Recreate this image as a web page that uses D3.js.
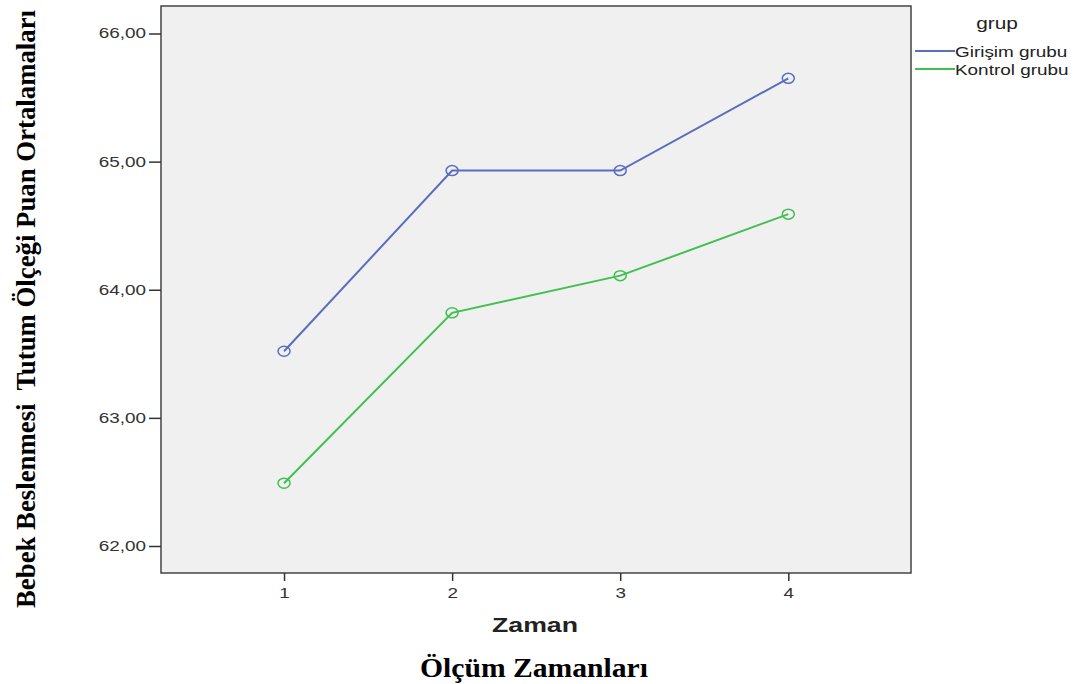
<!DOCTYPE html>
<html>
<head>
<meta charset="utf-8">
<script src="https://cdn.jsdelivr.net/npm/d3@7"></script>
<style>
  body { margin: 0; background: #fff; }
</style>
</head>
<body>
<svg id="chart" width="1086" height="684"></svg>
<script>
// Data
const times = [1, 2, 3, 4];
const girisim = [63.52, 64.93, 64.93, 65.65];
const kontrol = [62.49, 63.82, 64.11, 64.59];
const groupNames = ["Girişim grubu", "Kontrol grubu"];
const groupColors = ["#5a6dbf", "#40c050"];
const yTicks = [62, 63, 64, 65, 66];

const svg = d3.select("#chart");
const sans = "'Liberation Sans', Arial, sans-serif";
const serif = "'Liberation Serif', 'Times New Roman', serif";

// the original picture is stretched sideways, so widen the sans text a bit
function stretch(sel, k) {
  sel.each(function() {
    const w = this.getComputedTextLength();
    d3.select(this).attr("textLength", w * k).attr("lengthAdjust", "spacingAndGlyphs");
  });
}

// plot frame
const plotLeft = 161, plotRight = 911, plotTop = 6, plotBottom = 573;

const x = d3.scaleLinear()
  .domain([0.268, 4.73])
  .range([plotLeft, plotRight]);
const y = d3.scaleLinear()
  .domain([62, 66])
  .range([546, 33.5]);
const y0 = y.invert(plotBottom), y1 = y.invert(plotTop);
y.domain([y0, y1]).range([plotBottom, plotTop]);

// background
svg.append("rect")
  .attr("x", plotLeft).attr("y", plotTop)
  .attr("width", plotRight - plotLeft).attr("height", plotBottom - plotTop)
  .attr("fill", "#f0f0f0")
  .attr("stroke", "#444")
  .attr("stroke-width", 1.5);

// axes
const yAxis = svg.append("g")
  .attr("transform", `translate(${plotLeft},0)`)
  .call(d3.axisLeft(y).tickValues(yTicks).tickSize(12).tickPadding(3)
    .tickFormat(d => d3.format(".2f")(d).replace(".", ",")));
const xAxis = svg.append("g")
  .attr("transform", `translate(0,${plotBottom})`)
  .call(d3.axisBottom(x).tickValues(times).tickSize(8).tickPadding(7)
    .tickFormat(d3.format("d")));

[yAxis, xAxis].forEach(a => {
  a.select(".domain").remove();
  a.selectAll(".tick line").attr("stroke", "#333").attr("stroke-width", 1.5);
  a.selectAll(".tick text")
    .attr("fill", "#333")
    .style("font-family", sans)
    .style("font-size", "14px")
    .call(stretch, 1.35);
});

// lines
const series = [girisim, kontrol];
const line = d3.line()
  .x((d, i) => x(times[i]))
  .y(d => y(d));

series.forEach((s, k) => {
  svg.append("path")
    .datum(s)
    .attr("d", line)
    .attr("fill", "none")
    .attr("stroke", groupColors[k])
    .attr("stroke-width", 2);
  svg.append("g")
    .selectAll("ellipse")
    .data(s)
    .enter()
    .append("ellipse")
      .attr("cx", (d, i) => x(times[i]))
      .attr("cy", d => y(d))
      .attr("rx", 6)
      .attr("ry", 5)
      .attr("fill", "none")
      .attr("stroke", groupColors[k])
      .attr("stroke-width", 1.5);
});

// legend
svg.append("text")
  .attr("x", 997).attr("y", 29)
  .attr("text-anchor", "middle")
  .style("font-family", sans)
  .style("font-size", "16px")
  .attr("fill", "#222")
  .text("grup")
  .call(stretch, 1.3);
groupNames.forEach((g, i) => {
  const ly = 51 + i * 18;
  svg.append("line")
    .attr("x1", 915).attr("x2", 955)
    .attr("y1", ly).attr("y2", ly)
    .attr("stroke", groupColors[i])
    .attr("stroke-width", 2);
  svg.append("text")
    .attr("x", 955).attr("y", ly + 6)
    .style("font-family", sans)
    .style("font-size", "14px")
    .attr("fill", "#222")
    .text(g)
    .call(stretch, 1.35);
});

// axis titles
svg.append("text")
  .attr("x", 535).attr("y", 632)
  .attr("text-anchor", "middle")
  .style("font-family", sans)
  .style("font-size", "20px")
  .style("font-weight", "bold")
  .attr("fill", "#222")
  .attr("textLength", 86)
  .attr("lengthAdjust", "spacingAndGlyphs")
  .text("Zaman");
svg.append("text")
  .attr("x", 534).attr("y", 677)
  .attr("text-anchor", "middle")
  .style("font-family", serif)
  .style("font-size", "28px")
  .style("font-weight", "bold")
  .attr("fill", "#000")
  .attr("textLength", 228)
  .attr("lengthAdjust", "spacingAndGlyphs")
  .text("Ölçüm Zamanları");
svg.append("text")
  .attr("transform", "translate(35,309) rotate(-90)")
  .attr("text-anchor", "middle")
  .style("font-family", serif)
  .style("font-size", "28px")
  .style("font-weight", "bold")
  .attr("fill", "#000")
  .style("white-space", "pre")
  .attr("textLength", 598)
  .attr("lengthAdjust", "spacingAndGlyphs")
  .text("Bebek Beslenmesi  Tutum Ölçeği Puan Ortalamaları");
</script>
</body>
</html>
